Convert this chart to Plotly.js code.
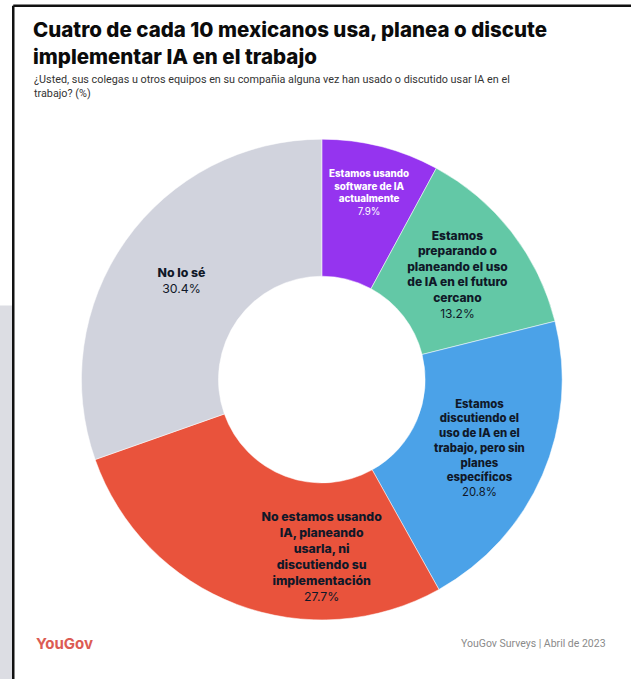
<!DOCTYPE html>
<html>
<head>
<meta charset="utf-8">
<script src="https://cdn.plot.ly/plotly-3.0.1.min.js"></script>
<style>
  html, body { margin: 0; padding: 0; background: #ffffff; }
  #chart { width: 631px; height: 679px; }
</style>
</head>
<body>
<div id="chart"></div>
<script>
const categories = [
  "Estamos usando software de IA actualmente",
  "Estamos preparando o planeando el uso de IA en el futuro cercano",
  "Estamos discutiendo el uso de IA en el trabajo, pero sin planes específicos",
  "No estamos usando IA, planeando usarla, ni discutiendo su implementación",
  "No lo sé"
];
const sliceLabels = [
  "Estamos usando<br>software de IA<br>actualmente",
  "Estamos<br>preparando o<br>planeando el uso<br>de IA en el futuro<br>cercano",
  "Estamos<br>discutiendo el<br>uso de IA en el<br>trabajo, pero sin<br>planes<br>específicos",
  "No estamos usando<br>IA, planeando<br>usarla, ni<br>discutiendo su<br>implementación",
  "No lo sé"
];
const values = [7.9, 13.2, 20.8, 27.7, 30.4];
const colors = ["#9534ef", "#63c8a6", "#4ba2e8", "#e9533c", "#d1d3dd"];
const textColors = ["#ffffff", "#101828", "#101828", "#101828", "#101828"];

const texts = values.map((v, i) =>
  "<span style=\"font-weight:800\">" + sliceLabels[i].split("<br>").join("</span><br><span style=\"font-weight:800\">") +
  "</span><br>" + v.toFixed(1) + "%");

const trace = {
  type: "pie",
  labels: categories,
  values: values,
  text: texts,
  textinfo: "text",
  texttemplate: "%{text}",
  hoverinfo: "label+percent",
  sort: false,
  direction: "clockwise",
  rotation: 0,
  hole: 0.43,
  marker: { colors: colors, line: { color: "rgba(255,255,255,0.5)", width: 1 } },
  textposition: "inside",
  insidetextorientation: "horizontal",
  insidetextfont: { family: "Inter, Roboto, sans-serif", size: 12.3, color: textColors },
  domain: { x: [0.122, 0.898], y: [0.087, 0.795] },
  showlegend: false
};

const layout = {
  width: 631,
  height: 679,
  margin: { l: 0, r: 0, t: 0, b: 0 },
  paper_bgcolor: "#ffffff",
  showlegend: false,
  font: { family: "Inter, Roboto, sans-serif", color: "#101828" },
  shapes: [
    { type: "rect", xref: "paper", yref: "paper", x0: 0, x1: 0.019, y0: 0, y1: 0.55,
      fillcolor: "#dcdde3", line: { width: 0 }, layer: "below" },
    { type: "line", xref: "paper", yref: "paper", x0: 0.021, x1: 0.021, y0: 0, y1: 0.9915,
      line: { color: "#111111", width: 2.5 } },
    { type: "line", xref: "paper", yref: "paper", x0: 0.021, x1: 1, y0: 0.9915, y1: 0.9915,
      line: { color: "#111111", width: 2.5 } }
  ],
  annotations: [
    { text: "Cuatro de cada 10 mexicanos usa, planea o discute<br>implementar IA en el trabajo",
      xref: "paper", yref: "paper", x: 0.049, y: 0.978, xanchor: "left", yanchor: "top",
      align: "left", showarrow: false,
      font: { family: "Inter, Roboto, sans-serif", size: 20.5, color: "#0b0b0b", weight: 800 } },
    { text: "¿Usted, sus colegas u otros equipos en su compañia alguna vez han usado o discutido usar IA en el<br>trabajo? (%)",
      xref: "paper", yref: "paper", x: 0.051, y: 0.895, xanchor: "left", yanchor: "top",
      align: "left", showarrow: false,
      font: { family: "Roboto, sans-serif", size: 10.8, color: "#333333" } },
    { text: "<b>YouGov</b>",
      xref: "paper", yref: "paper", x: 0.054, y: 0.052, xanchor: "left", yanchor: "middle",
      showarrow: false,
      font: { family: "Inter, Roboto, sans-serif", size: 15, color: "#dc5c53" } },
    { text: "YouGov Surveys | Abril de 2023",
      xref: "paper", yref: "paper", x: 0.963, y: 0.052, xanchor: "right", yanchor: "middle",
      showarrow: false,
      font: { family: "Roboto, sans-serif", size: 10.5, color: "#8a8a8a" } }
  ]
};

Plotly.newPlot("chart", [trace], layout, { displayModeBar: false, staticPlot: true });
</script>
</body>
</html>
